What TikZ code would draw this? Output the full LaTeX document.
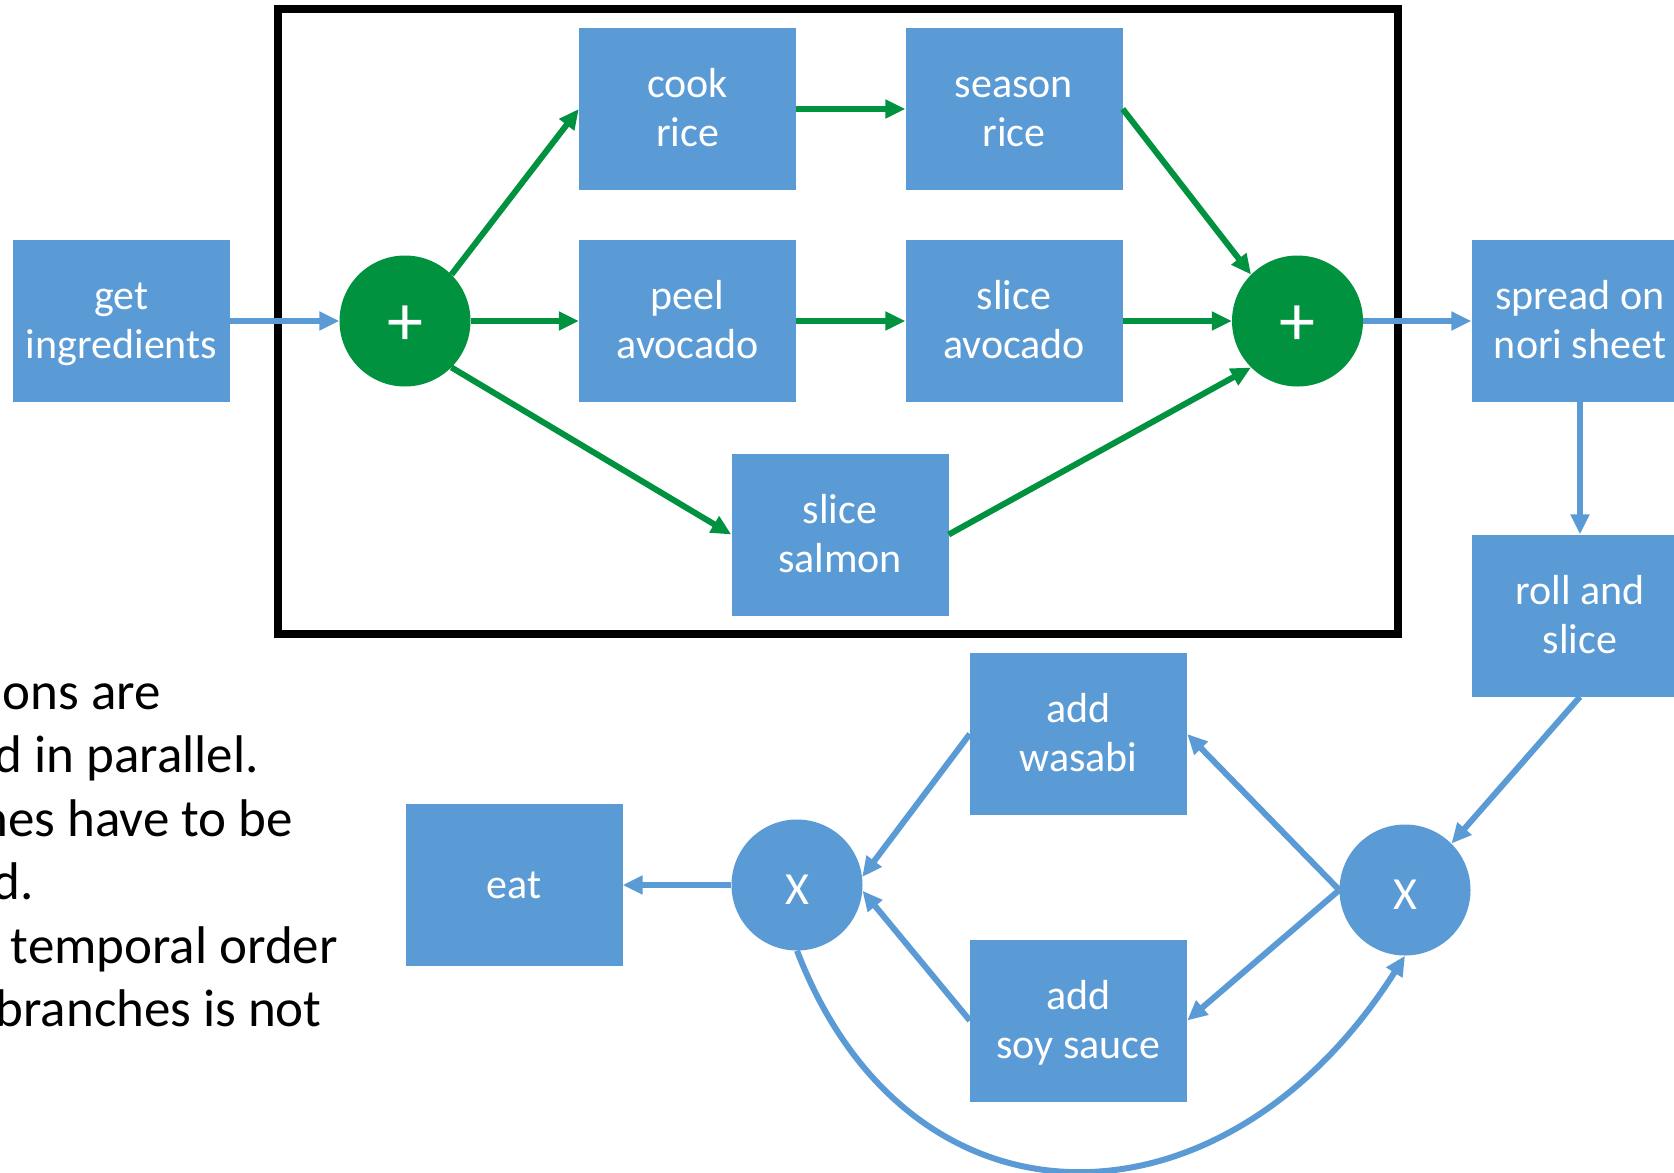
\documentclass[tikz,border=0pt]{standalone}
\usepackage{fontspec}
\setmainfont{Carlito}
\usetikzlibrary{arrows.meta}
\definecolor{boxblue}{HTML}{5B9BD5}
\definecolor{gatgreen}{HTML}{00923F}
\newcommand\ls{\rule[-11.5pt]{0pt}{49pt}}
\newcommand\lowered[1]{\raisebox{-4.5pt}[\height][\depth]{#1}}
\tikzset{
  task/.style={fill=boxblue, text=white, minimum width=217pt, minimum height=162pt,
    inner sep=0pt, align=center, font=\fontsize{42}{49}\selectfont},
  andgate/.style={circle, fill=gatgreen, text=white, minimum size=131pt, inner sep=0pt,
    font=\fontsize{72}{72}\selectfont},
  xorgate/.style={circle, fill=boxblue, text=white, minimum size=131pt, inner sep=0pt,
    font=\fontsize{46}{46}\selectfont},
  gflow/.style={draw=gatgreen, line width=6pt, -{Triangle[length=20pt,width=18pt]}},
  bflow/.style={draw=boxblue, line width=6pt, -{Triangle[length=20pt,width=18pt]}},
  note/.style={anchor=base east, inner sep=0pt, font=\fontsize{53}{63}\selectfont},
  frame/.style={draw=black, line width=8pt, minimum width=1120.5pt, minimum height=624.5pt, inner sep=0pt}
}
\begin{document}
\begin{tikzpicture}[x=1pt,y=-1pt]
\useasboundingbox (0,0) rectangle (1674,1173);
\clip (0,0) rectangle (1674,1173);
\fill[white] (0,0) rectangle (1674,1173);

\node[frame] (box) at (837.75,321.25) {};

\node[task] (get) at (121.5,321) {\ls get\\\ls ingredients};
\node[andgate] (c1) at (405,321) {\lowered{+}};
\node[task] (cook) at (687.5,109) {\ls cook\\\ls rice};
\node[task] (season) at (1014,109) {\ls season\\\ls rice};
\node[task] (peel) at (687.5,321) {\ls peel\\\ls avocado};
\node[task] (slav) at (1014,321) {\ls slice\\\ls avocado};
\node[task] (salmon) at (840,534.5) {\ls slice\\\ls salmon};
\node[andgate] (c2) at (1297.5,321) {\lowered{+}};
\node[task] (spread) at (1580,321) {\ls spread on\\\ls nori sheet};
\node[task] (roll) at (1580,615.5) {\ls roll and\\\ls slice};
\node[task] (wasabi) at (1078.5,734) {\ls add\\\ls wasabi};
\node[task] (soy) at (1078.5,1020.5) {\ls add\\\ls soy sauce};
\node[xorgate] (xl) at (797,885) {\lowered{X}};
\node[xorgate] (xr) at (1405,890) {\lowered{X}};
\node[task] (eat) at (514,885) {\ls eat};

\node[note] (n1) at (161,709) {ons are};
\node[note] (n2) at (259,772.5) {d in parallel.};
\node[note] (n3) at (293,836) {nes have to be};
\node[note] (n4) at (34,899.5) {d.};
\node[note] (n5) at (338,963) {temporal order};
\node[note] (n6) at (322,1026.5) {branches is not};

\draw[bflow] (get.east) -- (c1.west);
\draw[gflow] (c1.45) -- (cook.west);
\draw[gflow] (c1.east) -- (peel.west);
\draw[gflow] (c1.-45) -- (salmon.west);
\draw[gflow] (cook.east) -- (season.west);
\draw[gflow] (peel.east) -- (slav.west);
\draw[gflow] (season.east) -- (c2.135);
\draw[gflow] (slav.east) -- (c2.west);
\draw[gflow] (salmon.east) -- (c2.-135);
\draw[bflow] (c2.east) -- (spread.west);
\draw[bflow] (spread.south) -- (roll.north);
\draw[bflow] (roll.south) -- (xr.45);
\draw[bflow] (xr.west) -- (wasabi.east);
\draw[bflow] (xr.west) -- (soy.east);
\draw[bflow] (wasabi.west) -- (xl.7);
\draw[bflow] (soy.west) -- (xl.-5);
\draw[bflow] (xl.west) -- (eat.east);
\draw[bflow] (xl.south) .. controls (910,1245) and (1225,1240) .. (xr.south);
\end{tikzpicture}
\end{document}
